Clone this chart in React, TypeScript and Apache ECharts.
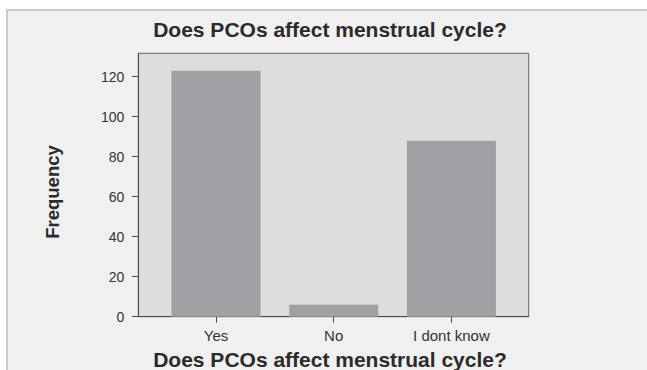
import React, { useEffect, useRef } from 'react';
import * as echarts from 'echarts';

const categories = ['Yes', 'No', 'I dont know'];
const frequencies = [123, 6, 88];
const yTickValues = [0, 20, 40, 60, 80, 100, 120];
const chartTitle = 'Does PCOs affect menstrual cycle?';
const xAxisTitle = 'Does PCOs affect menstrual cycle?';
const yAxisTitle = 'Frequency';

export default function App() {
  const ref = useRef<HTMLDivElement>(null);
  useEffect(() => {
    document.body.style.margin = '0';
    const chart = echarts.init(ref.current as HTMLDivElement, null, { renderer: 'svg' });
    const plotLeft = 138.3;
    const plotTop = 53.3;
    const plotW = 390.4;
    const plotH = 263.4;
    const yMax = 131.7;
    const catLeft = 157.15;
    const catW = 353.1;
    const font = '"Liberation Sans", Arial, sans-serif';
    chart.setOption({
      animation: false,
      backgroundColor: '#f0f0f0',
      graphic: [
        { type: 'rect', silent: true, shape: { x: 0, y: 0, width: 647, height: 9 }, style: { fill: '#ffffff' } },
        { type: 'rect', silent: true, shape: { x: 0, y: 0, width: 6, height: 370 }, style: { fill: '#ffffff' } },
        { type: 'line', silent: true, shape: { x1: 6, y1: 10, x2: 647, y2: 10 }, style: { stroke: '#c9c9c9', lineWidth: 2 } },
        { type: 'line', silent: true, shape: { x1: 7, y1: 9, x2: 7, y2: 370 }, style: { stroke: '#c9c9c9', lineWidth: 2 } },
        {
          type: 'text', silent: true, x: 330, y: 29.5,
          style: { text: chartTitle, fontFamily: font, fontSize: 21, fontWeight: 'bold', fill: '#2b2b2b', textAlign: 'center', align: 'center', textVerticalAlign: 'middle', verticalAlign: 'middle' }
        },
        {
          type: 'text', silent: true, x: 330, y: 359.5,
          style: { text: xAxisTitle, fontFamily: font, fontSize: 21, fontWeight: 'bold', fill: '#2b2b2b', textAlign: 'center', align: 'center', textVerticalAlign: 'middle', verticalAlign: 'middle' }
        },
        {
          type: 'text', silent: true, x: 52, y: 192, rotation: Math.PI / 2,
          style: { text: yAxisTitle, fontFamily: font, fontSize: 18.5, fontWeight: 'bold', fill: '#2b2b2b', textAlign: 'center', align: 'center', textVerticalAlign: 'middle', verticalAlign: 'middle' }
        }
      ],
      grid: [
        { left: plotLeft, top: plotTop, width: plotW, height: plotH, show: true, backgroundColor: '#dcdddf', borderColor: '#666666', borderWidth: 1 },
        { left: catLeft, top: plotTop, width: catW, height: plotH, show: false }
      ],
      xAxis: [
        {
          gridIndex: 0, type: 'category', data: categories,
          axisLine: { show: true, lineStyle: { color: '#4a4a4a', width: 1 } },
          axisTick: { show: false }, axisLabel: { show: false }, splitLine: { show: false }
        },
        {
          gridIndex: 1, type: 'category', data: categories, boundaryGap: true,
          axisLine: { show: true, lineStyle: { color: '#4a4a4a', width: 1 } },
          axisTick: { show: true, alignWithLabel: true, length: 6, lineStyle: { color: '#4a4a4a' } },
          axisLabel: { show: true, fontSize: 15, fontFamily: font, color: '#333333', margin: 11 },
          splitLine: { show: false }
        }
      ],
      yAxis: [
        {
          gridIndex: 0, type: 'value', min: 0, max: yMax,
          axisLine: { show: true, lineStyle: { color: '#4a4a4a', width: 1 } },
          axisTick: { show: true, length: 6, customValues: yTickValues, lineStyle: { color: '#4a4a4a' } },
          axisLabel: { show: true, customValues: yTickValues, fontSize: 14, fontFamily: font, color: '#333333', margin: 14 },
          splitLine: { show: false }
        },
        { gridIndex: 1, type: 'value', min: 0, max: yMax, show: false }
      ],
      series: [
        {
          type: 'bar', xAxisIndex: 1, yAxisIndex: 1, data: frequencies, barWidth: 89,
          itemStyle: { color: '#a0a1a4' }
        }
      ]
    });
    return () => chart.dispose();
  }, []);
  return <div ref={ref} style={{ width: 647, height: 370 }} />;
}
